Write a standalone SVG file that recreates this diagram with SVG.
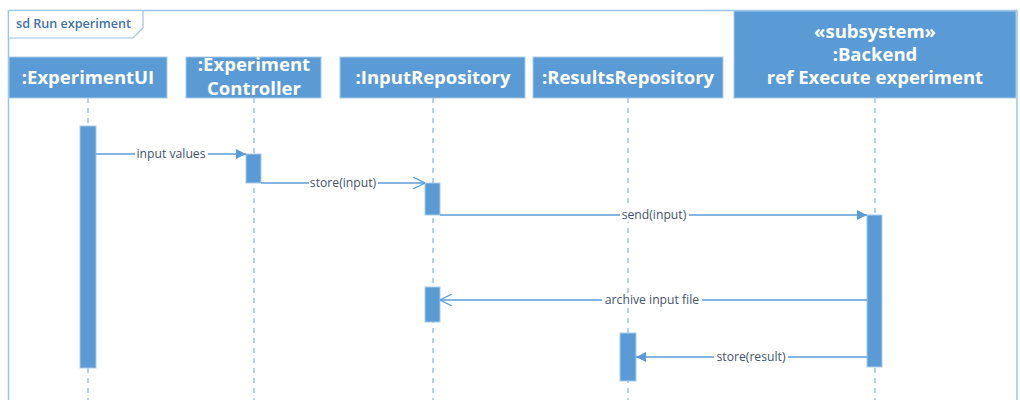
<svg xmlns="http://www.w3.org/2000/svg" width="1020" height="400" viewBox="0 0 1020 400">
  <defs>
    <style>
      .frame { fill: none; stroke: #9dc3e6; stroke-width: 1.5; }
      .tab { fill: #ffffff; stroke: #9dc3e6; stroke-width: 1.2; }
      .tabtxt { font-family: "Open Sans", "Noto Sans", sans-serif; font-size: 12.6px; font-weight: 600; fill: #4472a8; }
      .head { fill: #5b9bd5; stroke: #a9cbe9; stroke-width: 1; }
      .headtxt { font-family: "Open Sans", "Noto Sans", sans-serif; font-size: 18.5px; font-weight: 700; fill: #ffffff; text-anchor: middle; }
      .life { stroke: #9dc3e6; stroke-width: 1.5; stroke-dasharray: 5 5; }
      .act { fill: #5b9bd5; stroke: #a9cbe9; stroke-width: 1; }
      .msg { stroke: #5b9bd5; stroke-width: 1.3; fill: none; }
      .lbl { font-family: "Open Sans", "Noto Sans", sans-serif; font-size: 12.2px; fill: #44546a; text-anchor: middle; }
      .lblbg { fill: #ffffff; }
    </style>
    <marker id="filled" viewBox="0 0 10 10" refX="10" refY="5" markerWidth="10" markerHeight="10" markerUnits="userSpaceOnUse" orient="auto">
      <path d="M0,0 L10,5 L0,10 Z" fill="#5b9bd5"/>
    </marker>
    <marker id="open" viewBox="0 0 12 12" refX="12" refY="6" markerWidth="12" markerHeight="12" markerUnits="userSpaceOnUse" orient="auto">
      <path d="M0,0 L12,6 L0,12" fill="none" stroke="#5b9bd5" stroke-width="1.2"/>
    </marker>
  </defs>

  <!-- interaction frame -->
  <g id="frame">
    <path class="frame" d="M8.5,420 L8.5,10.5 L1017,10.5 L1017,420"/>
    <path class="tab" d="M8.5,10.5 L143,10.5 L143,28 L133,38 L8.5,38 Z"/>
    <text class="tabtxt" x="16" y="28">sd Run experiment</text>
  </g>

  <!-- lifelines -->
  <g id="lifelines">
    <line class="life" x1="88" y1="98" x2="88" y2="400"/>
    <line class="life" x1="254" y1="98" x2="254" y2="400"/>
    <line class="life" x1="433" y1="98" x2="433" y2="400"/>
    <line class="life" x1="628" y1="98" x2="628" y2="400"/>
    <line class="life" x1="875" y1="98" x2="875" y2="400"/>
  </g>

  <!-- participants -->
  <g id="experiment-ui">
    <rect class="head" x="9" y="57" width="158" height="41"/>
    <text class="headtxt" x="88" y="84">:ExperimentUI</text>
    <rect class="act" x="80" y="126" width="16" height="242"/>
  </g>
  <g id="experiment-controller">
    <rect class="head" x="186" y="57" width="135" height="41"/>
    <text class="headtxt" x="254" y="71">:Experiment</text>
    <text class="headtxt" x="254" y="95">Controller</text>
    <rect class="act" x="246" y="154" width="15" height="29"/>
  </g>
  <g id="input-repository">
    <rect class="head" x="340" y="57" width="185" height="41"/>
    <text class="headtxt" x="433" y="84">:InputRepository</text>
    <rect class="act" x="425" y="183" width="15" height="32"/>
    <rect class="act" x="425" y="287" width="15" height="35"/>
  </g>
  <g id="results-repository">
    <rect class="head" x="533" y="57" width="190" height="41"/>
    <text class="headtxt" x="628" y="84">:ResultsRepository</text>
    <rect class="act" x="620" y="333" width="16" height="48"/>
  </g>
  <g id="backend">
    <rect class="head" x="734" y="11" width="282" height="87"/>
    <text class="headtxt" x="875" y="38">«subsystem»</text>
    <text class="headtxt" x="875" y="61">:Backend</text>
    <text class="headtxt" x="875" y="84">ref Execute experiment</text>
    <rect class="act" x="867" y="215" width="15" height="152"/>
  </g>

  <!-- messages -->
  <g id="connectors">
    <line class="msg" x1="96" y1="154" x2="246" y2="154" marker-end="url(#filled)"/>
    <rect class="lblbg" x="135" y="147" width="73" height="14"/>
    <text class="lbl" x="171" y="158">input values</text>

    <line class="msg" x1="261" y1="183" x2="425" y2="183" marker-end="url(#open)"/>
    <rect class="lblbg" x="309" y="176" width="69" height="14"/>
    <text class="lbl" x="343" y="187">store(input)</text>

    <line class="msg" x1="440" y1="215" x2="867" y2="215" marker-end="url(#filled)"/>
    <rect class="lblbg" x="620" y="208" width="69" height="14"/>
    <text class="lbl" x="654" y="219">send(input)</text>

    <line class="msg" x1="867" y1="300" x2="440" y2="300" marker-end="url(#open)"/>
    <rect class="lblbg" x="602" y="293" width="100" height="14"/>
    <text class="lbl" x="652" y="304">archive input file</text>

    <line class="msg" x1="867" y1="357" x2="636" y2="357" marker-end="url(#filled)"/>
    <rect class="lblbg" x="714" y="350" width="74" height="14"/>
    <text class="lbl" x="751" y="361">store(result)</text>
  </g>
</svg>
